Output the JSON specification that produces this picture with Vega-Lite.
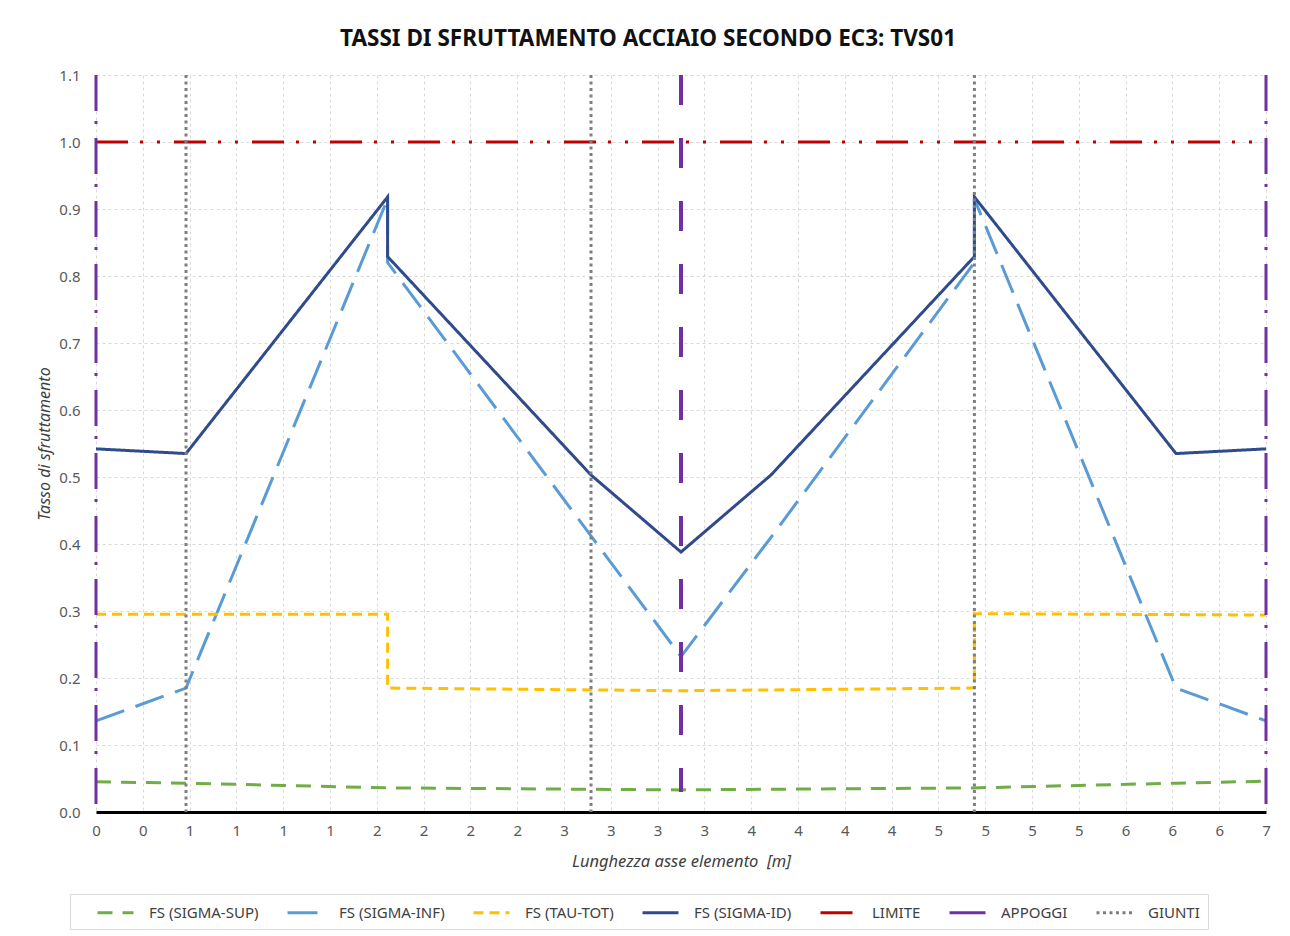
{
  "$schema": "https://vega.github.io/schema/vega-lite/v6.json",
  "width": 1170,
  "height": 737,
  "autosize": {"type": "none"},
  "padding": {"left": 96, "top": 75, "right": 24, "bottom": 124},
  "background": "white",
  "title": {"text": "TASSI DI SFRUTTAMENTO ACCIAIO SECONDO EC3: TVS01", "font": "Noto Sans", "fontSize": 22.5, "fontWeight": "bold", "color": "#111111", "anchor": "middle", "dx": -33, "offset": 17},
  "config": {"view": {"stroke": null}},
  "data": {"values": [
    {"serie": "FS (SIGMA-SUP)", "id": "sup", "n": 1, "x": 0, "y": 0.045},
    {"serie": "FS (SIGMA-SUP)", "id": "sup", "n": 2, "x": 0.5, "y": 0.043},
    {"serie": "FS (SIGMA-SUP)", "id": "sup", "n": 3, "x": 1.62, "y": 0.036},
    {"serie": "FS (SIGMA-SUP)", "id": "sup", "n": 4, "x": 3.25, "y": 0.033},
    {"serie": "FS (SIGMA-SUP)", "id": "sup", "n": 5, "x": 4.88, "y": 0.036},
    {"serie": "FS (SIGMA-SUP)", "id": "sup", "n": 6, "x": 6.0, "y": 0.043},
    {"serie": "FS (SIGMA-SUP)", "id": "sup", "n": 7, "x": 6.5, "y": 0.046},
    {"serie": "FS (SIGMA-INF)", "id": "inf", "n": 1, "x": 0, "y": 0.136},
    {"serie": "FS (SIGMA-INF)", "id": "inf", "n": 2, "x": 0.5, "y": 0.185},
    {"serie": "FS (SIGMA-INF)", "id": "inf", "n": 3, "x": 1.62, "y": 0.915},
    {"serie": "FS (SIGMA-INF)", "id": "inf", "n": 4, "x": 1.62, "y": 0.82},
    {"serie": "FS (SIGMA-INF)", "id": "inf", "n": 5, "x": 2.75, "y": 0.412},
    {"serie": "FS (SIGMA-INF)", "id": "inf", "n": 6, "x": 3.25, "y": 0.232},
    {"serie": "FS (SIGMA-INF)", "id": "inf", "n": 7, "x": 3.75, "y": 0.41},
    {"serie": "FS (SIGMA-INF)", "id": "inf", "n": 8, "x": 4.88, "y": 0.82},
    {"serie": "FS (SIGMA-INF)", "id": "inf", "n": 9, "x": 4.88, "y": 0.915},
    {"serie": "FS (SIGMA-INF)", "id": "inf", "n": 10, "x": 6.0, "y": 0.185},
    {"serie": "FS (SIGMA-INF)", "id": "inf", "n": 11, "x": 6.5, "y": 0.136},
    {"serie": "FS (TAU-TOT)", "id": "tau", "n": 1, "x": 0, "y": 0.295},
    {"serie": "FS (TAU-TOT)", "id": "tau", "n": 2, "x": 1.62, "y": 0.295},
    {"serie": "FS (TAU-TOT)", "id": "tau", "n": 3, "x": 1.62, "y": 0.185},
    {"serie": "FS (TAU-TOT)", "id": "tau", "n": 4, "x": 3.25, "y": 0.181},
    {"serie": "FS (TAU-TOT)", "id": "tau", "n": 5, "x": 4.88, "y": 0.185},
    {"serie": "FS (TAU-TOT)", "id": "tau", "n": 6, "x": 4.88, "y": 0.296},
    {"serie": "FS (TAU-TOT)", "id": "tau", "n": 7, "x": 6.5, "y": 0.294},
    {"serie": "FS (SIGMA-ID)", "id": "id", "n": 1, "x": 0, "y": 0.542},
    {"serie": "FS (SIGMA-ID)", "id": "id", "n": 2, "x": 0.5, "y": 0.535},
    {"serie": "FS (SIGMA-ID)", "id": "id", "n": 3, "x": 1.62, "y": 0.918},
    {"serie": "FS (SIGMA-ID)", "id": "id", "n": 4, "x": 1.62, "y": 0.829},
    {"serie": "FS (SIGMA-ID)", "id": "id", "n": 5, "x": 2.75, "y": 0.503},
    {"serie": "FS (SIGMA-ID)", "id": "id", "n": 6, "x": 3.25, "y": 0.388},
    {"serie": "FS (SIGMA-ID)", "id": "id", "n": 7, "x": 3.75, "y": 0.503},
    {"serie": "FS (SIGMA-ID)", "id": "id", "n": 8, "x": 4.88, "y": 0.829},
    {"serie": "FS (SIGMA-ID)", "id": "id", "n": 9, "x": 4.88, "y": 0.918},
    {"serie": "FS (SIGMA-ID)", "id": "id", "n": 10, "x": 6.0, "y": 0.535},
    {"serie": "FS (SIGMA-ID)", "id": "id", "n": 11, "x": 6.5, "y": 0.542},
    {"serie": "LIMITE", "id": "lim", "n": 1, "x": 0, "y": 1.0},
    {"serie": "LIMITE", "id": "lim", "n": 2, "x": 6.5, "y": 1.0},
    {"serie": "APPOGGI", "id": "A1", "n": 1, "x": 0, "y": 1.1},
    {"serie": "APPOGGI", "id": "A1", "n": 2, "x": 0, "y": 0},
    {"serie": "APPOGGI", "id": "A2", "n": 1, "x": 3.25, "y": 1.1},
    {"serie": "APPOGGI", "id": "A2", "n": 2, "x": 3.25, "y": 0.03},
    {"serie": "APPOGGI", "id": "A3", "n": 1, "x": 6.5, "y": 1.1},
    {"serie": "APPOGGI", "id": "A3", "n": 2, "x": 6.5, "y": 0},
    {"serie": "GIUNTI", "id": "G1", "n": 1, "x": 0.5, "y": 1.1},
    {"serie": "GIUNTI", "id": "G1", "n": 2, "x": 0.5, "y": 0},
    {"serie": "GIUNTI", "id": "G2", "n": 1, "x": 2.75, "y": 1.1},
    {"serie": "GIUNTI", "id": "G2", "n": 2, "x": 2.75, "y": 0},
    {"serie": "GIUNTI", "id": "G3", "n": 1, "x": 4.88, "y": 1.1},
    {"serie": "GIUNTI", "id": "G3", "n": 2, "x": 4.88, "y": 0}
  ]},
  "layer": [
    {
      "transform": [{"filter": "datum.id != 'A2'"}],
      "mark": {"type": "line", "strokeCap": "butt", "clip": false},
      "encoding": {
        "x": {"field": "x", "type": "quantitative",
          "scale": {"domain": [0, 6.5], "nice": false, "zero": false},
          "axis": {"title": "Lunghezza asse elemento \u00a0[m]", "titleFont": "Noto Sans", "titleFontStyle": "italic", "titleFontWeight": "normal", "titleFontSize": 16.5, "titleColor": "#404040", "titlePadding": 15,
            "values": [0, 0.26, 0.52, 0.78, 1.04, 1.3, 1.56, 1.82, 2.08, 2.34, 2.6, 2.86, 3.12, 3.38, 3.64, 3.9, 4.16, 4.42, 4.68, 4.94, 5.2, 5.46, 5.72, 5.98, 6.24, 6.5],
            "labelExpr": "format(round(datum.value), 'd')", "labelFont": "Noto Sans", "labelFontSize": 15, "labelColor": "#595959", "labelPadding": 11, "labelFlush": false, "labelOverlap": false,
            "ticks": false, "domain": true, "domainColor": "#000000", "domainWidth": 3,
            "grid": true, "gridColor": "#D9D9D9", "gridDash": [3, 3], "gridWidth": 1}},
        "y": {"field": "y", "type": "quantitative",
          "scale": {"domain": [0, 1.1], "nice": false},
          "axis": {"title": "Tasso di sfruttamento", "titleFont": "Noto Sans", "titleFontStyle": "italic", "titleFontWeight": "normal", "titleFontSize": 16, "titleColor": "#404040", "titlePadding": 6,
            "values": [0, 0.1, 0.2, 0.3, 0.4, 0.5, 0.6, 0.7, 0.8, 0.9, 1.0, 1.1], "format": ".1f",
            "labelFont": "Noto Sans", "labelFontSize": 15, "labelColor": "#595959", "labelPadding": 16,
            "ticks": false, "domain": false,
            "grid": true, "gridColor": "#D9D9D9", "gridDash": [3, 3], "gridWidth": 1}},
        "detail": {"field": "id"},
        "order": {"field": "n", "type": "quantitative"},
        "color": {"field": "serie", "type": "nominal",
          "scale": {"domain": ["FS (SIGMA-SUP)", "FS (SIGMA-INF)", "FS (TAU-TOT)", "FS (SIGMA-ID)", "LIMITE", "APPOGGI", "GIUNTI"],
            "range": ["#70AD47", "#5B9BD5", "#FFC000", "#2F4B8C", "#C00000", "#7030A0", "#7F7F7F"]},
          "legend": {"title": null, "orient": "none", "legendX": -26, "legendY": 819, "direction": "horizontal", "columns": 7,
            "symbolType": "M1,0H5", "symbolSize": 324, "labelFont": "Noto Sans", "labelFontSize": 15, "labelColor": "#404040", "labelLimit": 0, "labelOffset": 50,
            "padding": 8, "strokeColor": "#D9D9D9", "columnPadding": 9, "fillColor": "white"}},
        "strokeDash": {"field": "serie", "type": "nominal",
          "scale": {"domain": ["FS (SIGMA-SUP)", "FS (SIGMA-INF)", "FS (TAU-TOT)", "FS (SIGMA-ID)", "LIMITE", "APPOGGI", "GIUNTI"],
            "range": [[15, 10], [30, 12], [10, 6], [1, 0], [32, 12, 3, 14, 3, 14], [36, 10, 3, 14], [3, 3.5]]}},
        "strokeWidth": {"field": "serie", "type": "nominal",
          "scale": {"domain": ["FS (SIGMA-SUP)", "FS (SIGMA-INF)", "FS (TAU-TOT)", "FS (SIGMA-ID)", "LIMITE", "APPOGGI", "GIUNTI"],
            "range": [3, 3, 3, 3, 4.5, 3, 3]}}
      }
    },
    {
      "transform": [{"filter": "datum.id == 'A2'"}],
      "mark": {"type": "line", "color": "#7030A0", "strokeWidth": 4, "strokeDash": [30, 33], "strokeCap": "butt"},
      "encoding": {
        "x": {"field": "x", "type": "quantitative"},
        "y": {"field": "y", "type": "quantitative"},
        "order": {"field": "n", "type": "quantitative"}
      }
    }
  ]
}
